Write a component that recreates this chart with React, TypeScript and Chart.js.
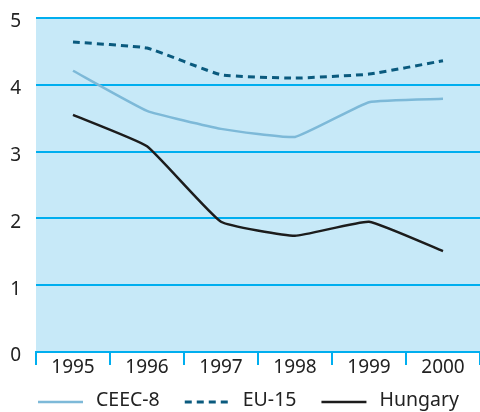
import React, { useEffect, useRef } from "react";
import { Chart, registerables } from "chart.js";

Chart.register(...registerables);

const years = ["1995", "1996", "1997", "1998", "1999", "2000"];
const ceec8 = [4.21, 3.61, 3.34, 3.22, 3.74, 3.79];
const eu15 = [4.64, 4.55, 4.15, 4.1, 4.16, 4.36];
const hungary = [3.55, 3.08, 1.95, 1.74, 1.95, 1.51];
const yTicks = [0, 1, 2, 3, 4, 5];

const FONT = "'Noto Sans', 'DejaVu Sans', sans-serif";
const GRID = "#00aeef";
const TEXT = "#222";

const bgPlugin = {
  id: "plotBg",
  beforeDraw(chart: any) {
    const { ctx, chartArea } = chart;
    ctx.save();
    ctx.fillStyle = "#c7e9f8";
    ctx.fillRect(chartArea.left, chartArea.top, chartArea.right - chartArea.left, chartArea.bottom - chartArea.top);
    ctx.restore();
  },
};

const legendPlugin = {
  id: "lineLegend",
  afterDraw(chart: any) {
    const { ctx, chartArea } = chart;
    const lineLen = 45;
    const gapText = 13;
    const gapItem = 25;
    const yText = 400;
    const yLine = 402;
    ctx.save();
    ctx.font = `19.5px ${FONT}`;
    ctx.textBaseline = "middle";
    ctx.textAlign = "left";
    let x = chartArea.left + 2;
    chart.data.datasets.forEach((ds: any) => {
      ctx.beginPath();
      ctx.strokeStyle = ds.borderColor;
      ctx.lineWidth = ds.borderWidth;
      ctx.setLineDash(ds.borderDash || []);
      ctx.moveTo(x, yLine);
      ctx.lineTo(x + lineLen, yLine);
      ctx.stroke();
      ctx.setLineDash([]);
      x += lineLen + gapText;
      ctx.fillStyle = TEXT;
      ctx.fillText(ds.label, x, yText);
      x += ctx.measureText(ds.label).width + gapItem;
    });
    ctx.restore();
  },
};

export default function App() {
  const ref = useRef<HTMLCanvasElement | null>(null);
  useEffect(() => {
    if (!ref.current) return;
    const chart = new Chart(ref.current, {
      type: "line",
      data: {
        labels: years,
        datasets: [
          { label: "CEEC-8", data: ceec8, borderColor: "#7db9d8", borderWidth: 2.5, pointRadius: 0, tension: 0.12, fill: false },
          { label: "EU-15", data: eu15, borderColor: "#0a5a7e", borderWidth: 3, borderDash: [7, 5], pointRadius: 0, tension: 0.12, fill: false },
          { label: "Hungary", data: hungary, borderColor: "#1c1c1c", borderWidth: 2.5, pointRadius: 0, tension: 0.12, fill: false },
        ],
      },
      options: {
        responsive: false,
        animation: false,
        layout: { padding: { left: 0, right: 0, top: 18, bottom: 30 } },
        plugins: {
          tooltip: { enabled: false },
          legend: { display: false },
        },
        scales: {
          x: {
            offset: true,
            afterFit: (scale: any) => {
              scale.height = 30;
              scale.paddingLeft = 0;
              scale.paddingRight = 0;
            },
            grid: { offset: true, drawOnChartArea: false, drawTicks: true, tickLength: 13, color: GRID, lineWidth: 2 },
            border: { color: GRID, width: 2 },
            ticks: { color: TEXT, font: { family: FONT, size: 19 }, padding: -9, maxRotation: 0 },
          },
          y: {
            min: 0,
            max: 5,
            afterBuildTicks: (scale: any) => {
              scale.ticks = yTicks.map((v) => ({ value: v }));
            },
            afterFit: (scale: any) => {
              scale.width = 36;
              scale.paddingTop = 0;
              scale.paddingBottom = 0;
            },
            grid: { color: GRID, lineWidth: 2, drawTicks: false },
            border: { display: false },
            ticks: { color: TEXT, font: { family: FONT, size: 19 }, padding: 15, labelOffset: 4 },
          },
        },
      },
      plugins: [bgPlugin, legendPlugin],
    });
    return () => chart.destroy();
  }, []);
  return (
    <div style={{ position: "absolute", left: 0, top: 0, width: 480, height: 412, background: "#fff" }}>
      <canvas ref={ref} width={480} height={412} style={{ width: 480, height: 412 }} />
    </div>
  );
}
